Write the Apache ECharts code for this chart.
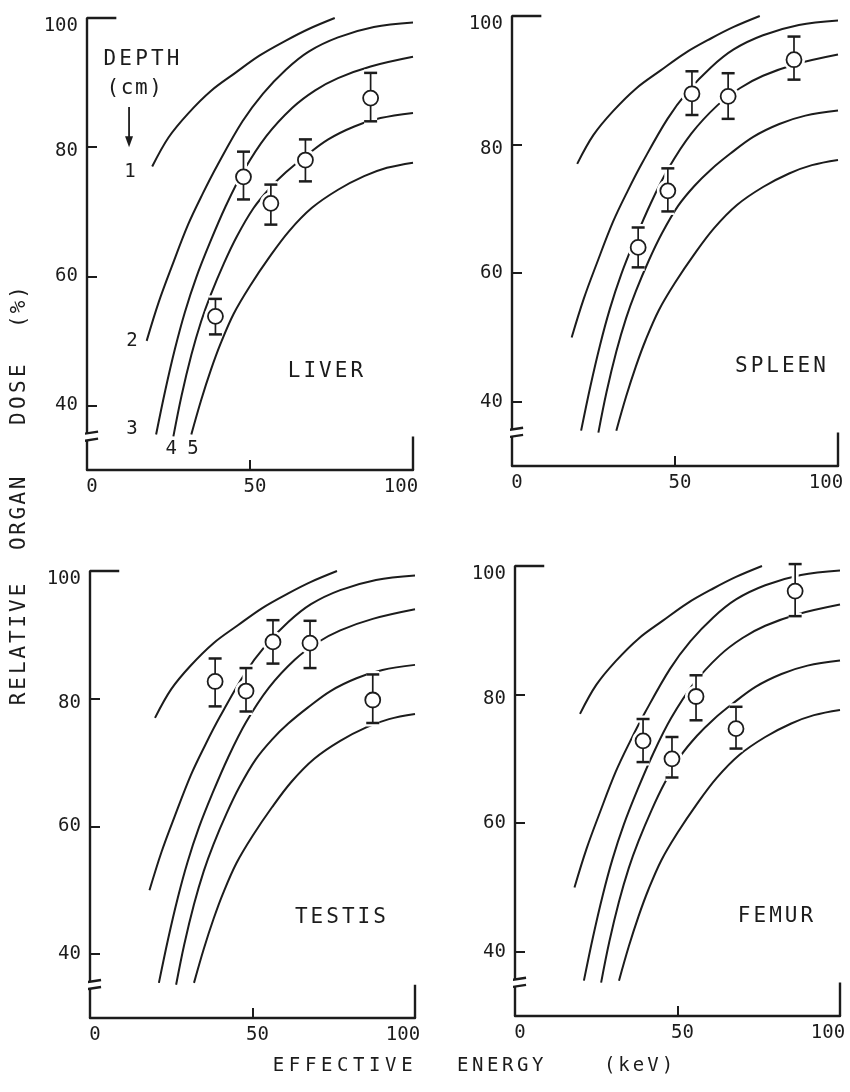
<!DOCTYPE html>
<html><head><meta charset="utf-8">
<script src="https://cdn.jsdelivr.net/npm/echarts@6/dist/echarts.min.js"></script>
<style>html,body{margin:0;padding:0;background:#fff}#c{width:850px;height:1092px}</style>
</head><body><div id="c"></div>
<script>
// Depth curves (cm): [effective energy keV, relative dose %]
const curve1 = [[20,77],[25,81.5],[31,85.2],[38,88.7],[45.5,91.5],[53,94.2],[61,96.5],[68,98.3],[76,100]];
const curve2 = [[18.3,50],[22,56],[26,61.5],[31,68],[35.5,72.8],[40,77.2],[47.7,84],[54,88.3],[61,92],[68,94.8],[77,97],[88,98.6],[100,99.3]];
const curve3 = [[21.2,35.5],[24,42.3],[27,48.8],[30,54.4],[33.5,59.8],[37.7,65.2],[42.5,70.8],[48,76.3],[55,81.7],[63,86.1],[70,88.8],[77,90.7],[87,92.5],[100,94]];
const curve4 = [[26.5,35.2],[29,41.5],[32,47.8],[35,53],[38,57.2],[42,62],[46,66.2],[51,70.5],[56,73.6],[61,76.1],[67,78.6],[74,81.2],[82,83.2],[90,84.5],[100,85.3]];
const curve5 = [[32,35.5],[35,40.8],[38,45.5],[41,49.6],[45,54.2],[50,58.5],[56,63],[62,67],[69,70.6],[77,73.4],[85,75.5],[92,76.8],[100,77.6]];

const xTickLabels = [0, 50, 100];
const yTickLabels = [40, 60, 80, 100];
const panelNames = ['LIVER', 'SPLEEN', 'TESTIS', 'FEMUR'];
const depthLabels = ['1', '2', '3', '4', '5'];

const liverEnergy = [39.4, 48, 56.4, 67, 87];
const liverDose   = [53.8, 75.4, 71.3, 78, 87.6];
const liverHigh   = [56.5, 79.3, 74.2, 81.2, 91.5];
const liverLow    = [51, 71.9, 68, 74.7, 84];

const spleenEnergy = [38.7, 47.8, 55.2, 66.3, 86.5];
const spleenDose   = [64, 72.8, 87.9, 87.5, 93.2];
const spleenHigh   = [67.1, 76.3, 91.4, 91.1, 96.8];
const spleenLow    = [60.9, 69.6, 84.6, 84, 90.1];

const testisEnergy = [38.5, 48, 56.3, 67.7, 87];
const testisDose   = [82.7, 81.2, 88.9, 88.7, 79.8];
const testisHigh   = [86.3, 84.8, 92.3, 92.2, 83.8];
const testisLow    = [78.8, 78, 85.5, 84.8, 76.2];

const femurEnergy = [39.4, 48.3, 55.7, 68, 86.2];
const femurDose   = [72.8, 70, 79.7, 74.7, 96.1];
const femurHigh   = [76.2, 73.4, 83, 78.1, 100.3];
const femurLow    = [69.5, 67.1, 76, 71.6, 92.2];

const INK = '#1c1c1c';
const FONT = 'DejaVu Sans Mono';

// typewriter-like letter spacing for the title words only
const SPACING = {'LIVER': 3, 'SPLEEN': 3, 'TESTIS': 3, 'FEMUR': 3, 'DEPTH': 3.2, '(cm)': 1.6,
  'EFFECTIVE': 4.6, 'ENERGY': 3.6, '(keV)': 3, 'RELATIVE': 2.9, 'ORGAN': 2.6, 'DOSE': 3.4, '(%)': 2};
(function () {
  const P = CanvasRenderingContext2D.prototype;
  const orig = P.fillText;
  P.fillText = function (t, x, y, m) {
    const s = SPACING[t];
    if (s && ('letterSpacing' in this)) {
      this.save();
      this.letterSpacing = s + 'px';
      if (m === undefined) orig.call(this, t, x, y); else orig.call(this, t, x, y, m);
      this.restore();
      this.letterSpacing = '0px';
      return;
    }
    if ('letterSpacing' in this && this.letterSpacing !== '0px') this.letterSpacing = '0px';
    if (m === undefined) return orig.call(this, t, x, y);
    return orig.call(this, t, x, y, m);
  };
})();

const curves = [curve1, curve2, curve3, curve4, curve5];
const organs = [
  [liverEnergy, liverDose, liverHigh, liverLow],
  [spleenEnergy, spleenDose, spleenHigh, spleenLow],
  [testisEnergy, testisDose, testisHigh, testisLow],
  [femurEnergy, femurDose, femurHigh, femurLow]
];
const grids = [
  {left: 87, top: 18, width: 326, height: 452},
  {left: 512, top: 16, width: 326, height: 450},
  {left: 90, top: 571, width: 325, height: 447},
  {left: 515, top: 566, width: 325, height: 450}
];
const labelPos = [[73.6, 45.3], [82.8, 45.5], [77.5, 45.7], [80.6, 45.4]];

function errRender(halo) {
  return function (params, api) {
    const x = api.value(0), hi = api.value(1), lo = api.value(2);
    const a = api.coord([x, hi]), b = api.coord([x, lo]);
    const w = 6.5;
    const s1 = {stroke: halo ? '#fff' : INK, lineWidth: halo ? 7 : 1.7, fill: null};
    const s2 = {stroke: halo ? '#fff' : INK, lineWidth: halo ? 7 : 2.5, fill: null};
    return {type: 'group', children: [
      {type: 'line', shape: {x1: a[0], y1: a[1], x2: b[0], y2: b[1]}, style: s1},
      {type: 'line', shape: {x1: a[0] - w, y1: a[1], x2: a[0] + w, y2: a[1]}, style: s2},
      {type: 'line', shape: {x1: b[0] - w, y1: b[1], x2: b[0] + w, y2: b[1]}, style: s2}
    ]};
  };
}

const labelFont = {color: INK, fontFamily: FONT, fontSize: 19};
const xAxes = [], yAxes = [], series = [];
grids.forEach(function (g, i) {
  xAxes.push({
    gridIndex: i, type: 'value', min: 0, max: 100,
    axisLine: {onZero: false, lineStyle: {color: INK, width: 2.4}},
    axisTick: {inside: true, length: 10, customValues: [50], lineStyle: {color: INK, width: 2}},
    axisLabel: Object.assign({customValues: xTickLabels, margin: 8,
      formatter: function (v) { return v === 100 ? '{r|' + v + '}' : '{n|' + v + '}'; },
      rich: {
        r: Object.assign({padding: [0, 24, 0, 0]}, labelFont),
        n: Object.assign({padding: [0, 0, 0, 10]}, labelFont)
      }}, labelFont),
    splitLine: {show: false}
  });
  yAxes.push({
    gridIndex: i, type: 'value', min: 30, max: 100,
    axisLine: {show: false},
    axisTick: {show: true, inside: true, length: 10, customValues: [40, 60, 80], lineStyle: {color: INK, width: 2}},
    axisLabel: Object.assign({customValues: yTickLabels, margin: 9,
      formatter: function (v) { return v === 100 ? '{t|' + v + '}' : (v === 80 ? '{m|' + v + '}' : '{n|' + v + '}'); },
      rich: {
        t: Object.assign({padding: [16, 0, 0, 0]}, labelFont),
        m: Object.assign({padding: [8, 0, 0, 0]}, labelFont),
        n: Object.assign({}, labelFont)
      }}, labelFont),
    splitLine: {show: false}
  });
  const base = {xAxisIndex: i, yAxisIndex: i, silent: true, animation: false};
  curves.forEach(function (c) {
    series.push(Object.assign({type: 'line', data: c, smooth: 0.35, symbol: 'none',
      lineStyle: {color: INK, width: 2}, z: 2}, base));
  });
  const frame = [
    [[0, 30], [0, 34.55]],
    [[0, 35.7], [0, 100], [9, 100]],
    [[100, 30], [100, 35.2]],
    [[-3.6, 35.4], [3.4, 35.95]],
    [[-3.6, 34.3], [3.4, 34.85]]
  ];
  frame.forEach(function (f) {
    series.push(Object.assign({type: 'line', data: f, symbol: 'none', clip: false,
      lineStyle: {color: INK, width: 2.4}, z: 2}, base));
  });
  const o = organs[i];
  const pts = o[0].map(function (x, k) { return [x, o[1][k]]; });
  const bars = o[0].map(function (x, k) { return [x, o[2][k], o[3][k]]; });
  series.push(Object.assign({type: 'scatter', data: pts, symbol: 'circle', symbolSize: 22,
    itemStyle: {color: '#fff', opacity: 1}, z: 3}, base));
  series.push(Object.assign({type: 'custom', data: bars, renderItem: errRender(true), z: 3}, base));
  series.push(Object.assign({type: 'custom', data: bars, renderItem: errRender(false), z: 4}, base));
  series.push(Object.assign({type: 'scatter', data: pts, symbol: 'circle', symbolSize: 15,
    itemStyle: {color: '#fff', borderColor: INK, borderWidth: 1.8, opacity: 1}, z: 5}, base));
});

const chart = echarts.init(document.getElementById('c'), null, {renderer: 'canvas'});
chart.setOption({
  backgroundColor: '#fff',
  animation: false,
  grid: grids,
  xAxis: xAxes,
  yAxis: yAxes,
  series: series
});

function px(i, v) { return chart.convertToPixel({gridIndex: i}, v); }
const txt = function (pos, text, size, extra) {
  return Object.assign({type: 'text', x: pos[0], y: pos[1], silent: true,
    style: {text: text, fill: INK, font: size + 'px "' + FONT + '"', textAlign: 'center', textVerticalAlign: 'middle'}}, extra || {});
};
const graphics = [];
panelNames.forEach(function (n, i) { graphics.push(txt(px(i, labelPos[i]), n, 21)); });
graphics.push(txt(px(0, [17.2, 93.6]), 'DEPTH', 21));
graphics.push(txt(px(0, [14.7, 89]), '(cm)', 21));
const a1 = px(0, [12.9, 86.2]), a2 = px(0, [12.9, 80]);
graphics.push({type: 'line', shape: {x1: a1[0], y1: a1[1], x2: a2[0], y2: a2[1] - 6}, style: {stroke: INK, lineWidth: 1.8}});
graphics.push({type: 'polygon', shape: {points: [[a2[0] - 4, a2[1] - 11], [a2[0] + 4, a2[1] - 11], [a2[0], a2[1]]]}, style: {fill: INK}});
const depthPos = [[13.2, 76.2], [13.8, 50], [13.8, 36.4], [25.8, 33.2], [32.5, 33.2]];
depthLabels.forEach(function (d, k) { graphics.push(txt(px(0, depthPos[k]), d, 19)); });
// Axis titles
graphics.push(txt([20, 306], '(%)', 21, {rotation: Math.PI / 2}));
graphics.push(txt([20, 393], 'DOSE', 21, {rotation: Math.PI / 2}));
graphics.push(txt([20, 512], 'ORGAN', 21, {rotation: Math.PI / 2}));
graphics.push(txt([20, 643], 'RELATIVE', 21, {rotation: Math.PI / 2}));
graphics.push(txt([345, 1066], 'EFFECTIVE', 19));
graphics.push(txt([502, 1066], 'ENERGY', 19));
graphics.push(txt([640, 1066], '(keV)', 19));
chart.setOption({graphic: graphics});
</script></body></html>
